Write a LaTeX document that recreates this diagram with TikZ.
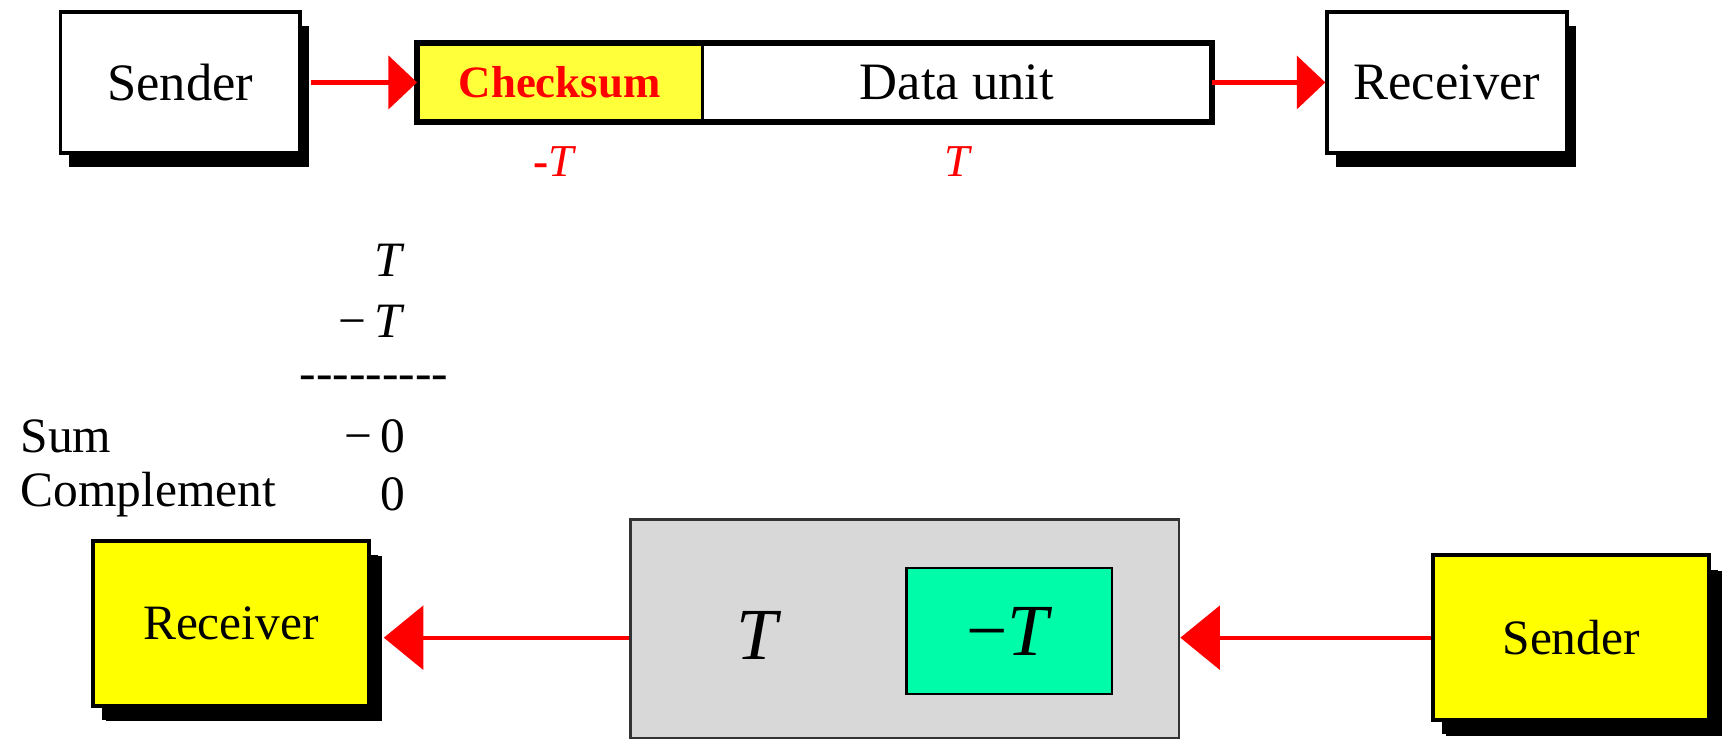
\documentclass[tikz,border=0pt]{standalone}
\usepackage{fontspec}
\setmainfont{Liberation Serif}
\usepackage{tikz}
\usetikzlibrary{arrows.meta, positioning, calc, shadows}
\definecolor{boxyellow}{HTML}{FFFF00}
\definecolor{cksyellow}{HTML}{FFFF3A}
\definecolor{linkred}{HTML}{FF0000}
\definecolor{pktgray}{HTML}{D8D8D8}
\definecolor{pktgreen}{HTML}{00FCA8}
\tikzset{
  station/.style={draw=black, line width=0.9pt, fill=white, inner sep=0pt,
    minimum width=21.8mm, minimum height=12.8mm,
    font=\fontsize{13.6}{16}\selectfont,
    drop shadow={shadow xshift=0.8mm, shadow yshift=-1.3mm, fill=black, opacity=1}},
  ystation/.style={station, fill=boxyellow, minimum width=25.1mm, minimum height=15mm,
    font=\fontsize{12.8}{15}\selectfont,
    drop shadow={shadow xshift=1.2mm, shadow yshift=-1.4mm, fill=black, opacity=1}},
  link/.style={draw=linkred, line width=1.3pt, -{Triangle[length=2.6mm, width=4.8mm]}},
  blink/.style={draw=linkred, line width=1pt, -{Triangle[length=3.6mm, width=5.8mm]}},
  redtag/.style={text=linkred, font=\fontsize{11.8}{14}\selectfont},
  sumtxt/.style={font=\fontsize{12.8}{15}\selectfont, inner sep=0pt}
}
\begin{document}
\begin{tikzpicture}[x=0.1mm, y=-0.1mm]
  \useasboundingbox (0,0) rectangle (1568,676);
  % top row
  \node[station] (sendA) at (164,75) {Sender};
  \node[station] (recvA) at (1316,75) {Receiver};
  \node[fill=cksyellow, inner sep=0pt, minimum width=25.8mm, minimum height=7mm,
    text=linkred, font=\fontsize{11.6}{14}\selectfont\bfseries] (cks) at (509,75) {Checksum};
  \node[fill=white, inner sep=0pt, minimum width=46.2mm, minimum height=7mm,
    font=\fontsize{13.6}{16}\selectfont, right=0pt of cks] (data) {Data unit};
  \draw[line width=1.5pt] (cks.north west) rectangle (data.south east);
  \draw[line width=0.7pt] (cks.north east) -- (cks.south east);
  \node[redtag] (ckT) at (505,147) {{\bfseries -}\textit{T}};
  \node[redtag] (dataT) at (872,147) {\textit{T}};
  \draw[link] ([xshift=0.8mm]sendA.east) -- (cks.west);
  \draw[link] (data.east) -- (recvA.west);
  % sum
  \foreach \val/\ypos/\nm in {\textit{T}/237/sa, −\,\textit{T}/292/sb, −\,0/397/sc, 0/450/sd} {
    \node[sumtxt, anchor=east] (\nm) at (369,\ypos) {\val};
  }
  \node[sumtxt] (rule) at (340,348) {{-}{-}{-}{-}{-}{-}{-}{-}{-}};
  \node[sumtxt, anchor=west] (sumlbl) at (18,397) {Sum};
  \node[sumtxt, anchor=west] (cmplbl) at (18,450) {Complement};
  % bottom row
  \node[ystation] (recvB) at (210,567) {Receiver};
  \node[ystation] (sendB) at (1429,580) {Sender};
  \node[draw=black!80, line width=0.6pt, fill=pktgray, minimum width=49.9mm,
    minimum height=19.9mm] (pkt) at (823,572) {};
  \node[draw=black, line width=0.6pt, fill=pktgreen, minimum width=18.7mm,
    minimum height=11.5mm, font=\fontsize{19}{22}\selectfont] (negT) at (918,574) {−\textit{T}};
  \node[font=\fontsize{19}{22}\selectfont] (bigT) at (690,578) {\textit{T}};
  \draw[blink] (sendB.west) -- (pkt.east |- sendB.west);
  \draw[blink] (pkt.west |- sendB.west) -- ([xshift=1.2mm]recvB.east |- sendB.west);
\end{tikzpicture}
\end{document}
